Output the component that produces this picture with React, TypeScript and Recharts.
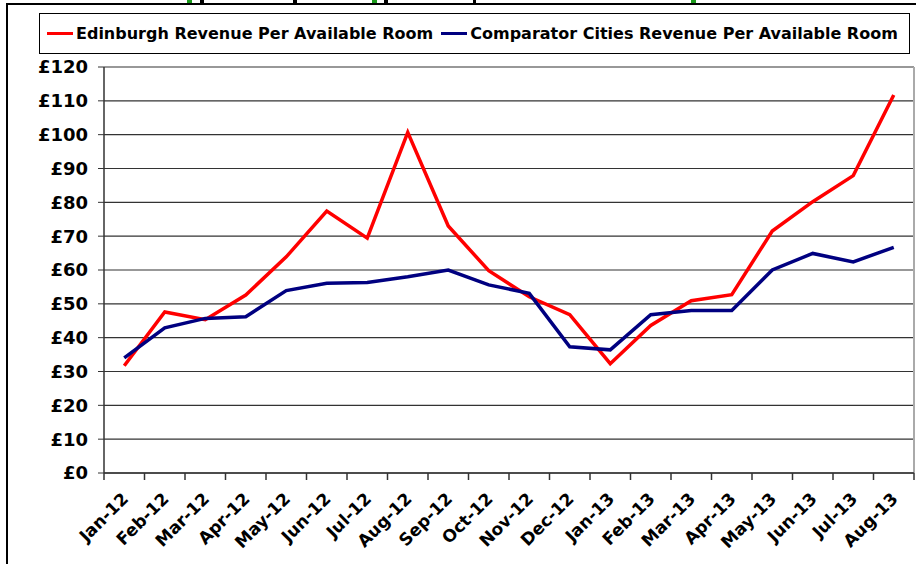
import React from 'react'
import { LineChart, Line, XAxis, YAxis, CartesianGrid } from 'recharts'

const months = [
  'Jan-12', 'Feb-12', 'Mar-12', 'Apr-12', 'May-12', 'Jun-12', 'Jul-12', 'Aug-12', 'Sep-12', 'Oct-12',
  'Nov-12', 'Dec-12', 'Jan-13', 'Feb-13', 'Mar-13', 'Apr-13', 'May-13', 'Jun-13', 'Jul-13', 'Aug-13',
]
const edinburgh = [31.7, 47.6, 45.3, 52.6, 63.9, 77.4, 69.4, 100.7, 73.0, 59.8, 52.1, 46.8, 32.3, 43.6, 50.9, 52.7, 71.5, 80.2, 87.9, 111.7]
const comparator = [34.0, 42.9, 45.7, 46.2, 53.9, 56.1, 56.3, 58.0, 60.0, 55.6, 53.1, 37.3, 36.4, 46.8, 48.0, 48.0, 60.0, 64.9, 62.4, 66.7]
const yTicks = [0, 10, 20, 30, 40, 50, 60, 70, 80, 90, 100, 110, 120]

const data = months.map((m, i) => ({ month: m, edinburgh: edinburgh[i], comparator: comparator[i] }))

const W = 916
const H = 564
const M = { top: 67, right: 2, bottom: 0, left: 4 }
const Y_AXIS_W = 100
const X_AXIS_H = 91
const PLOT_W = W - M.left - M.right - Y_AXIS_W
const BAND = PLOT_W / months.length

const FONT = '"DejaVu Sans", Verdana, sans-serif'
const RED = '#ff0000'
const NAVY = '#000080'

function MonthTick(props: any) {
  const { x, y, payload, index } = props
  const half = BAND / 2
  const ax = x + 5
  const ay = y + 27
  return (
    <g>
      <line x1={x - half} y1={y} x2={x - half} y2={y + 7} stroke="#333" strokeWidth={1.5} />
      {index === months.length - 1 && (
        <line x1={x + half} y1={y} x2={x + half} y2={y + 7} stroke="#333" strokeWidth={1.5} />
      )}
      <text
        x={ax}
        y={ay}
        transform={`rotate(-45 ${ax} ${ay})`}
        textAnchor="end"
        fontFamily={FONT}
        fontWeight="bold"
        fontSize={17}
        fill="#000"
      >
        {payload.value}
      </text>
    </g>
  )
}

function LegendBox() {
  const item = (color: string, label: string) => (
    <span style={{ display: 'inline-flex', alignItems: 'center' }}>
      <span style={{ display: 'inline-block', width: 26, height: 3, background: color, marginRight: 3 }} />
      <span>{label}</span>
    </span>
  )
  return (
    <div
      style={{
        position: 'absolute',
        left: 39,
        top: 13,
        width: 862,
        height: 39,
        border: '1px solid #000',
        background: '#fff',
        display: 'flex',
        alignItems: 'center',
        paddingLeft: 7,
        boxSizing: 'content-box',
        fontFamily: FONT,
        fontWeight: 'bold',
        fontSize: 16,
        color: '#000',
        gap: 8,
        whiteSpace: 'nowrap',
      }}
    >
      {item(RED, 'Edinburgh Revenue Per Available Room')}
      {item(NAVY, 'Comparator Cities Revenue Per Available Room')}
    </div>
  )
}

export default function App() {
  return (
    <div style={{ position: 'absolute', left: 0, top: 0, width: W, height: H, background: '#fff', overflow: 'hidden' }}>
      {/* bits of the cut-off title above the frame */}
      <div style={{ position: 'absolute', top: 0, left: 187, width: 5, height: 4, background: '#1a9a1a' }} />
      <div style={{ position: 'absolute', top: 0, left: 200, width: 4, height: 3, background: '#000' }} />
      <div style={{ position: 'absolute', top: 0, left: 293, width: 4, height: 3, background: '#000' }} />
      <div style={{ position: 'absolute', top: 0, left: 372, width: 5, height: 4, background: '#1a9a1a' }} />
      <div style={{ position: 'absolute', top: 0, left: 384, width: 4, height: 3, background: '#000' }} />
      <div style={{ position: 'absolute', top: 0, left: 473, width: 3, height: 4, background: '#000' }} />
      <div style={{ position: 'absolute', top: 0, left: 691, width: 5, height: 4, background: '#1a9a1a' }} />
      {/* outer chart frame */}
      <div style={{ position: 'absolute', left: 6, top: 3, width: W, height: H, borderLeft: '2px solid #000', borderTop: '2px solid #000' }} />
      <div style={{ position: 'absolute', left: 0, top: 0 }}>
        <LineChart width={W} height={H} data={data} margin={M}>
          <CartesianGrid vertical={false} stroke="#333" strokeWidth={1.2} />
          <CartesianGrid
            horizontal={false}
            stroke="#aaa"
            strokeWidth={2}
            verticalCoordinatesGenerator={({ offset }: any) => [offset.left + offset.width]}
          />
          <XAxis
            dataKey="month"
            interval={0}
            height={X_AXIS_H}
            padding={{ left: BAND / 2, right: BAND / 2 }}
            tickSize={0}
            tickMargin={0}
            tickLine={false}
            axisLine={{ stroke: '#333', strokeWidth: 1.5 }}
            tick={<MonthTick />}
          />
          <YAxis
            domain={[0, 120]}
            ticks={yTicks}
            width={Y_AXIS_W}
            tickSize={6}
            tickMargin={10}
            axisLine={{ stroke: '#333', strokeWidth: 1.5 }}
            tickLine={{ stroke: '#333' }}
            tickFormatter={(v: number) => `£${v}`}
            tick={{ fontFamily: FONT, fontWeight: 'bold', fontSize: 18, fill: '#000' }}
          />
          <Line
            dataKey="edinburgh"
            type="linear"
            stroke={RED}
            strokeWidth={3.5}
            dot={false}
            isAnimationActive={false}
          />
          <Line
            dataKey="comparator"
            type="linear"
            stroke={NAVY}
            strokeWidth={3.5}
            dot={false}
            isAnimationActive={false}
          />
        </LineChart>
      </div>
      <LegendBox />
    </div>
  )
}
